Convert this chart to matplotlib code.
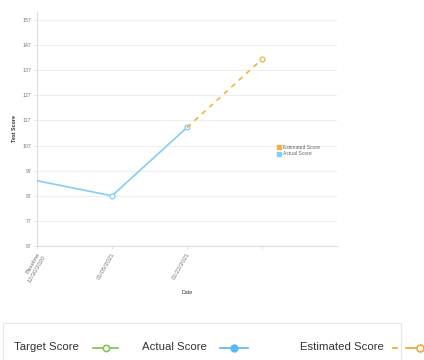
import matplotlib
matplotlib.use("Agg")
import matplotlib.pyplot as plt
from matplotlib.lines import Line2D
from matplotlib.patches import Rectangle

plt.rcParams['font.family'] = ['Liberation Sans', 'DejaVu Sans']

categories = ["Baseline\n12/30/2020", "01/05/2021", "01/22/2021", ""]
actual_idx = [0, 1, 2]
actual_scores = [93, 87, 114.2]
estimated_idx = [2, 3]
estimated_scores = [114.2, 141.4]
y_ticks = [67, 77, 87, 97, 107, 117, 127, 137, 147, 157]

blue = "#86cdf5"
orange = "#f5b041"
green = "#7dc24b"
grid_c = "#eeeeee"

fig = plt.figure(figsize=(4.24, 3.60), dpi=100)
ax = fig.add_axes([37/424, 1-246/360, 300/424, 234/360])

ax.plot(actual_idx, actual_scores, color=blue, lw=1.2, marker='o', ms=3.5,
        mfc='white', mec=blue, mew=0.9, zorder=3, markevery=[1, 2])
ax.plot(estimated_idx, estimated_scores, color=orange, lw=1.2, ls=(0, (3, 3)),
        marker='o', ms=3.5, mfc='white', mec=orange, mew=0.9, zorder=3,
        markevery=[1])

ax.set_xlim(0, 4)
ax.set_ylim(67, 160.2)
ax.set_yticks(y_ticks)
ax.set_yticklabels([str(t) for t in y_ticks], fontsize=3.8, color="#777777")
ax.set_xticks(range(len(categories)))
ax.set_xticklabels(categories, fontsize=4.4, color="#777777", rotation=60,
                   ha='right', va='top', rotation_mode='anchor')
ax.grid(axis='y', color=grid_c, lw=0.8)
ax.set_axisbelow(True)
for s in ['top', 'right']:
    ax.spines[s].set_visible(False)
ax.spines['left'].set_color('#dddddd')
ax.spines['bottom'].set_color('#dddddd')
ax.spines['left'].set_linewidth(0.8)
ax.spines['bottom'].set_linewidth(0.8)
ax.tick_params(axis='both', length=2, width=0.6, color='#dddddd', pad=2)
ax.set_ylabel("Test Score", fontsize=3.8, fontweight='bold', color='#333333', labelpad=4)
ax.set_xlabel("Date", fontsize=3.8, color='#333333', labelpad=5)

# Right legend
leg_handles = [
    Line2D([], [], ls='none', marker='s', ms=2.5, color=orange),
    Line2D([], [], ls='none', marker='s', ms=2.5, color=blue),
]
fig.legend(leg_handles, ["Estimated Score", "Actual Score"], loc='center left',
           bbox_to_anchor=(272/424, 1-150.5/360), frameon=False, fontsize=3.6,
           handlelength=0.8, handletextpad=0.5, labelspacing=0.3, labelcolor='#666666')

# Bottom legend box
fig.patches.append(Rectangle((3/424, -0.02), 398/424, 0.02 + (360-323)/360,
                             transform=fig.transFigure, fill=False,
                             ec='#e6e6e6', lw=0.8))
ly = 1 - 347.5/360
fs = 8.2
fig.text(14/424, ly, "Target Score", fontsize=fs, color='#333333', va='center')
fig.add_artist(Line2D([93/424, 118/424], [ly, ly], color=green, lw=1.2,
                      transform=fig.transFigure))
fig.add_artist(Line2D([105.5/424], [ly], color=green, marker='o', ms=4.5,
                      mfc='white', mec=green, mew=1.1, transform=fig.transFigure))
fig.text(142/424, ly, "Actual Score", fontsize=fs, color='#333333', va='center')
fig.add_artist(Line2D([220/424, 248/424], [ly, ly], color="#5ab8f0", lw=1.2,
                      transform=fig.transFigure))
fig.add_artist(Line2D([234/424], [ly], color="#5ab8f0", marker='o', ms=5,
                      mfc="#5ab8f0", mec="#5ab8f0", transform=fig.transFigure))
fig.text(300/424, ly, "Estimated Score", fontsize=fs, color='#333333', va='center')
fig.add_artist(Line2D([393/424, 397/424], [ly, ly], color="#f0a030", lw=1.2,
                      transform=fig.transFigure))
fig.add_artist(Line2D([406/424, 424/424], [ly, ly], color="#f0a030", lw=1.2,
                      transform=fig.transFigure))
fig.add_artist(Line2D([420/424], [ly], color="#f0a030", marker='o', ms=5,
                      mfc='white', mec="#f0a030", mew=1.1, transform=fig.transFigure,
                      clip_on=False))

fig.savefig("out.png", dpi=100)
